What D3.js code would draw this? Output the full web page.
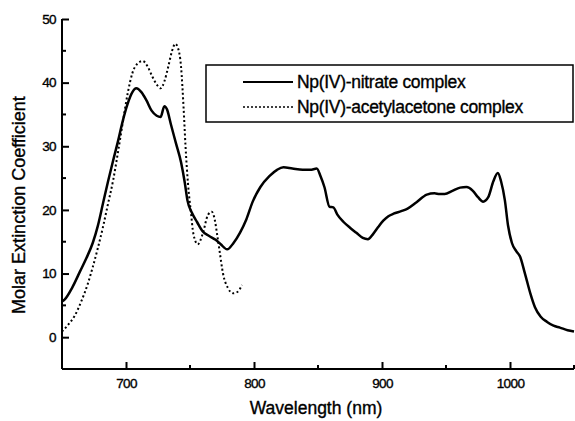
<!DOCTYPE html>
<html>
<head>
<meta charset="utf-8">
<script src="https://cdn.jsdelivr.net/npm/d3@7"></script>
<style>
  body { margin: 0; background: #fff; }
  svg { display: block; }
  text { font-family: "Liberation Sans", Arial, sans-serif; fill: #000; stroke: #000; stroke-width: 0.35px; }
</style>
</head>
<body>
<svg width="575" height="421"></svg>
<script>
// nitrate complex spectrum (wavelength nm, coefficient)
var nitrateWl = [650,652,658,664,669,674,678,682,686,690,694,697,701,705,708,712,716,720,724,727,730,732,735,739,743,746,748,751.6,755.5,760,765,770,774,779,784,789,794,799,805,812,818,823,830,838,844,849,852,855,859,862,865,870,875,880,885,889,893,897,901,905,909,915,920,927,935,941,945,949,955,961,966,971,975,979,983,987,990.5,993,996,998.5,1001.5,1005,1008,1011,1013,1016,1019.5,1024,1029,1034,1039,1045,1050];
var nitrateVal = [5.6,5.9,7.8,10.3,12.4,14.8,17.5,21,24.5,27.8,31,33.6,36.5,38.5,39.1,38.5,37.2,35.6,34.8,34.6,36.3,35.8,33.5,30.5,27.5,24.2,21.5,19.5,18.1,16.6,15.9,15.3,14.6,13.8,14.8,16.4,18.5,21.3,23.6,25.3,26.3,26.7,26.5,26.3,26.3,26.5,25.3,23.6,20.5,20.4,19.3,18.1,17.2,16.4,15.6,15.4,16.2,17.3,18.3,19,19.4,19.8,20.2,21.2,22.4,22.6,22.5,22.5,23,23.5,23.6,23,22,21.3,22,24.5,25.8,24.5,21.5,17.5,14.8,13.5,12.6,10.5,9,6.8,4.7,3.2,2.4,1.8,1.5,1.1,0.9];

// acetylacetone complex spectrum
var acacWl = [650,655,660,665,670,674,678,682,686,690,694,697.7,701.5,705,709,713,717,720,724,727,730,733,736,738.5,740.5,743,745,746.5,748.4,750.8,752.5,756,760,764,767,769.5,771,773,775.8,779.7,783.6,787,790.6];
var acacVal = [0.9,2.0,3.4,5.6,8.3,11,14,17.3,21,24.7,29.4,34,38.5,41.5,43,43.4,42.5,41.2,39.7,39.1,40.2,42.5,45,46.1,45.5,42.5,36,30,24.2,19.5,16.4,14.6,16.3,19.2,19.7,18.3,16.4,13.7,10,7.7,6.9,7.1,8.2];

var xTicks = [700, 800, 900, 1000];
var xMinor = [750, 850, 950, 1050];
var yTicks = [0, 10, 20, 30, 40, 50];
var yMinor = [5, 15, 25, 35, 45];

var seriesNames = ["Np(IV)-nitrate complex", "Np(IV)-acetylacetone complex"];

var svg = d3.select("svg");

var x = d3.scaleLinear().domain([650, 1050]).range([62, 574]);
var y = d3.scaleLinear().domain([-5, 50]).range([369, 19]);

var nitrate = nitrateWl.map((w, i) => [w, nitrateVal[i]]);
var acac = acacWl.map((w, i) => [w, acacVal[i]]);

var line = d3.line()
    .x(d => x(d[0]))
    .y(d => y(d[1]))
    .curve(d3.curveMonotoneX);

// axes, ticks pointing inward
var xAxis = svg.append("g")
    .attr("transform", "translate(0," + y(-5) + ")")
    .call(d3.axisBottom(x).tickValues(xTicks).tickSize(-7).tickPadding(9).tickFormat(d3.format("d")));
xAxis.append("g").selectAll("line")
    .data(xMinor)
    .join("line")
    .attr("x1", d => x(d)).attr("x2", d => x(d))
    .attr("y1", 0).attr("y2", -4)
    .attr("stroke", "#000").attr("stroke-width", 2);

var yAxis = svg.append("g")
    .attr("transform", "translate(" + x(650) + ",0)")
    .call(d3.axisLeft(y).tickValues(yTicks).tickSize(-7).tickPadding(6));
yAxis.append("g").selectAll("line")
    .data(yMinor)
    .join("line")
    .attr("y1", d => y(d)).attr("y2", d => y(d))
    .attr("x1", 0).attr("x2", 4)
    .attr("stroke", "#000").attr("stroke-width", 2);

svg.selectAll(".domain").attr("stroke-width", 2);
xAxis.select(".domain").attr("d", "M" + x(650) + ",0H" + x(1050));
yAxis.select(".domain").attr("d", "M0," + y(50) + "V" + y(-5));
svg.selectAll(".tick line").attr("stroke-width", 2);
svg.selectAll(".tick text")
    .style("font-size", "13.5px")
    .style("letter-spacing", "-0.6px");

// curves
svg.append("path")
    .datum(nitrate)
    .attr("fill", "none")
    .attr("stroke", "#000")
    .attr("stroke-width", 2.5)
    .attr("stroke-linejoin", "round")
    .attr("d", line);

svg.append("path")
    .datum(acac)
    .attr("fill", "none")
    .attr("stroke", "#000")
    .attr("stroke-width", 2)
    .attr("stroke-dasharray", "2,2.5")
    .attr("d", line);

// axis titles
svg.append("text")
    .attr("x", x(850) - 2)
    .attr("y", 414)
    .attr("text-anchor", "middle")
    .style("font-size", "17.5px")
    .text("Wavelength (nm)");

svg.append("text")
    .attr("transform", "translate(25,205) rotate(-90)")
    .attr("text-anchor", "middle")
    .style("font-size", "18px")
    .text("Molar Extinction Coefficient");

// legend
var legend = svg.append("g");
legend.append("rect")
    .attr("x", 206).attr("y", 65)
    .attr("width", 367).attr("height", 57)
    .attr("fill", "none").attr("stroke", "#000").attr("stroke-width", 1.5);

var rows = legend.selectAll("g.row")
    .data(seriesNames)
    .join("g")
    .attr("class", "row")
    .attr("transform", (d, i) => "translate(0," + (82 + i * 25) + ")");

rows.append("line")
    .attr("x1", 243).attr("x2", 293)
    .attr("stroke", "#000")
    .attr("stroke-width", (d, i) => i == 0 ? 2 : 1.5)
    .attr("stroke-dasharray", (d, i) => i == 0 ? null : "2,2");

rows.append("text")
    .attr("x", 297)
    .attr("y", 6)
    .style("font-size", "17.5px")
    .style("letter-spacing", "-0.3px")
    .text(d => d);
</script>
</body>
</html>
